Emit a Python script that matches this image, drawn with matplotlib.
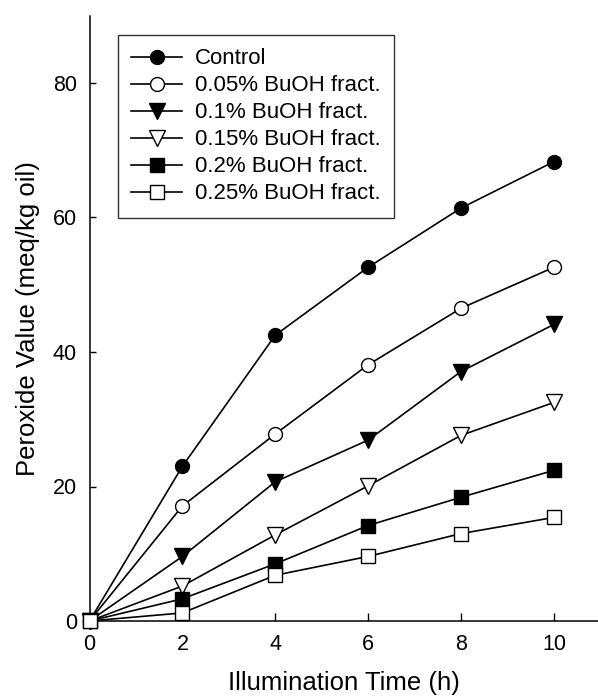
import matplotlib
matplotlib.use("Agg")
import matplotlib.pyplot as plt

plt.rcParams['font.family'] = ['Liberation Sans', 'DejaVu Sans']

time_h = [0, 2, 4, 6, 8, 10]
control = [0, 23.0, 42.5, 52.6, 61.4, 68.3]
buoh_005 = [0, 17.1, 27.8, 38.1, 46.5, 52.6]
buoh_010 = [0, 9.6, 20.7, 26.9, 37.1, 44.1]
buoh_015 = [0, 5.2, 12.8, 20.1, 27.6, 32.5]
buoh_020 = [0, 3.3, 8.5, 14.2, 18.4, 22.4]
buoh_025 = [0, 1.2, 6.8, 9.6, 13.0, 15.4]

labels = ["Control", "0.05% BuOH fract.", "0.1% BuOH fract.",
          "0.15% BuOH fract.", "0.2% BuOH fract.", "0.25% BuOH fract."]
series = [control, buoh_005, buoh_010, buoh_015, buoh_020, buoh_025]
styles = [("o", "black", 10), ("o", "white", 10), ("v", "black", 11),
          ("v", "white", 11), ("s", "black", 9.5), ("s", "white", 9.5)]

W, H = 598, 698
fig = plt.figure(figsize=(W / 100, H / 100), dpi=100)
ax = fig.add_axes([89.5 / W, 77 / H, (W - 89.5) / W, 605.25 / H])

for ys, lab, (m, fc, ms) in zip(series, labels, styles):
    ax.plot(time_h, ys, color="black", lw=1.2, marker=m, markersize=ms,
            markerfacecolor=fc, markeredgecolor="black", markeredgewidth=1.0,
            label=lab, clip_on=False, zorder=3)

ax.set_xlim(0, 10.95)
ax.set_ylim(0, 90)
ax.set_xticks([0, 2, 4, 6, 8, 10])
ax.set_yticks([0, 20, 40, 60, 80])
ax.spines['top'].set_visible(False)
ax.spines['right'].set_visible(False)
for s in ('left', 'bottom'):
    ax.spines[s].set_linewidth(1.1)
ax.tick_params(axis='x', direction='in', length=6, width=1.0, pad=9, labelsize=15.5)
ax.tick_params(axis='y', direction='in', length=4, width=1.0, pad=9, labelsize=15.5)

ax.set_xlabel("Illumination Time (h)", fontsize=18.5, labelpad=12)
ax.set_ylabel("Peroxide Value (meq/kg oil)", fontsize=18.5, labelpad=9)

leg = ax.legend(loc='upper left', bbox_to_anchor=(118 / W, 1 - 35 / H),
                bbox_transform=fig.transFigure, borderaxespad=0,
                fontsize=16, frameon=True, fancybox=False, shadow=False,
                handlelength=2.3, handletextpad=0.55, borderpad=0.6,
                labelspacing=0.27)
leg.get_frame().set_edgecolor('black')
leg.get_frame().set_linewidth(1.0)

fig.savefig("out.png", dpi=100)
